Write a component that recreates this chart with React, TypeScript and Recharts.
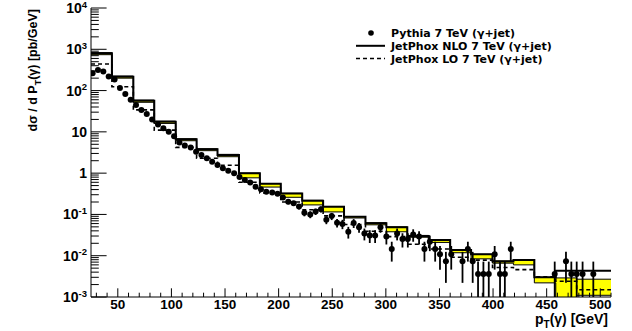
import React from 'react'
import {
  ComposedChart,
  Line,
  Area,
  Scatter,
  ErrorBar,
  XAxis,
  YAxis,
  Legend,
} from 'recharts'

// JetPhox histograms share the same binning (GeV)
const binEdges = [
  25, 44.5, 64.5, 84, 104, 123.5, 143, 163, 182.5, 202, 222, 241.5, 261, 281,
  300.5, 320, 340, 360, 379.5, 399.5, 419, 438.5, 458.5, 478, 510,
]
const nloXsec = [
  800, 217, 57, 17.6, 6.6, 3.8, 2.75, 0.99, 0.55, 0.32, 0.215, 0.154, 0.088,
  0.061, 0.049, 0.03, 0.024, 0.0138, 0.0108, 0.0072, 0.0079, 0.003, 0.0043,
  0.0043,
]
const nloBandLow = [
  740, 200, 52, 16, 6.1, 3.5, 2.5, 0.77, 0.46, 0.26, 0.17, 0.115, 0.082, 0.056,
  0.038, 0.028, 0.021, 0.0118, 0.0084, 0.0066, 0.006, 0.0022, 0.0005, 0.0011,
]
const nloBandHigh = [
  830, 225, 59, 18.2, 6.8, 3.9, 2.85, 1.0, 0.56, 0.325, 0.22, 0.156, 0.089,
  0.063, 0.05, 0.031, 0.0245, 0.014, 0.0108, 0.0075, 0.0079, 0.003, 0.0029,
  0.0027,
]
const loXsec = [
  440, 124, 34, 11, 4.2, 2.3, 1.55, 0.6, 0.33, 0.2, 0.13, 0.092, 0.057, 0.039,
  0.029, 0.019, 0.0145, 0.0092, 0.0078, 0.0052, 0.0046, 0.0031, 0.0024, 0.0015,
]

// Pythia points
const pythiaPt = [
  26.5, 31.5, 36.5, 41.5, 47, 52, 57, 62, 67, 72, 77, 82, 87.5, 92.5, 97.5,
  102.5, 107.5, 112.5, 118, 123, 128, 133, 138, 143, 148, 153, 158.5, 163.5,
  168.5, 173.5, 178.5, 183.5, 188.5, 194, 199, 204, 209, 214, 219, 224, 229.5,
  234.5, 239.5, 244.5, 249.5, 254.5, 259.5, 265, 270, 275, 280, 285, 290, 295,
  300.5, 305.5, 310.5, 315.5, 320.5, 325.5, 331, 336, 341, 346, 350.5, 356,
  361, 371.5, 376.5, 381, 386, 391, 396, 401.5, 406.5, 411, 416.5, 457.5, 468,
  473, 478, 483.5, 493.5,
]
const pythiaXsec = [
  263, 316, 288, 219, 186, 115, 83, 60, 45, 34, 27, 20, 15.1, 12.3, 10, 7.8,
  5.5, 4.7, 4.2, 3.3, 2.75, 2.3, 1.9, 1.58, 1.32, 1.15, 1.0, 0.81, 0.68, 0.59,
  0.47, 0.41, 0.355, 0.34, 0.315, 0.257, 0.204, 0.186, 0.155, 0.11, 0.1, 0.117,
  0.133, 0.074, 0.091, 0.063, 0.059, 0.038, 0.062, 0.049, 0.0345, 0.0309,
  0.0309, 0.049, 0.029, 0.0145, 0.0345, 0.0254, 0.0254, 0.0327, 0.029, 0.0145,
  0.0218, 0.0145, 0.0109, 0.0073, 0.0109, 0.0073, 0.0145, 0.0073, 0.0036,
  0.0036, 0.0036, 0.0109, 0.0036, 0.0036, 0.0145, 0.0036, 0.0073, 0.0036,
  0.0036, 0.0036, 0.0036,
]
const pythiaErrDown = [
  0, 0, 0, 0, 0, 0, 0, 0, 0, 0, 0, 0, 0, 0, 0, 0, 0, 0, 0, 0, 0, 0, 0, 0, 0, 0,
  0, 0.05, 0.045, 0.04, 0.035, 0.033, 0.031, 0.03, 0.029, 0.03, 0.027, 0.026,
  0.024, 0.02, 0.019, 0.02, 0.022, 0.016, 0.018, 0.015, 0.015, 0.012, 0.015,
  0.013, 0.011, 0.0106, 0.0106, 0.013, 0.0103, 0.0073, 0.011, 0.0096, 0.0096,
  0.0109, 0.0103, 0.0073, 0.0089, 0.0073, 0.0063, 0.0051, 0.0063, 0.0051,
  0.0073, 0.0051, 0.0026, 0.0026, 0.0026, 0.0063, 0.0026, 0.0026, 0.0073,
  0.0026, 0.0051, 0.0026, 0.0026, 0.0026, 0.0026,
]
const pythiaErrUp = [
  0, 0, 0, 0, 0, 0, 0, 0, 0, 0, 0, 0, 0, 0, 0, 0, 0, 0, 0, 0, 0, 0, 0, 0, 0, 0,
  0, 0.05, 0.045, 0.04, 0.035, 0.033, 0.031, 0.03, 0.029, 0.03, 0.027, 0.026,
  0.024, 0.02, 0.019, 0.02, 0.022, 0.016, 0.018, 0.015, 0.015, 0.012, 0.015,
  0.013, 0.011, 0.0106, 0.0106, 0.013, 0.0103, 0.0073, 0.011, 0.0096, 0.0096,
  0.0109, 0.0103, 0.0073, 0.0089, 0.0073, 0.0063, 0.0051, 0.0063, 0.0051,
  0.0073, 0.0051, 0.0036, 0.0036, 0.0036, 0.0063, 0.0036, 0.0036, 0.0073,
  0.0036, 0.0051, 0.0036, 0.0036, 0.0036, 0.0036,
]

const xMajorTicks = [50, 100, 150, 200, 250, 300, 350, 400, 450, 500]
const xMinorTicks = [
  30, 40, 60, 70, 80, 90, 110, 120, 130, 140, 160, 170, 180, 190, 210, 220, 230,
  240, 260, 270, 280, 290, 310, 320, 330, 340, 360, 370, 380, 390, 410, 420,
  430, 440, 460, 470, 480, 490, 510,
]
const yMajorTicks = [1e-3, 1e-2, 1e-1, 1, 10, 1e2, 1e3, 1e4]
const yTickLabels = [
  ['10', '-3'],
  ['10', '-2'],
  ['10', '-1'],
  ['1', ''],
  ['10', ''],
  ['10', '2'],
  ['10', '3'],
  ['10', '4'],
]
const decadeSteps = [2, 3, 4, 5, 6, 7, 8, 9]

const FONT = '"Liberation Sans", Arial, Helvetica, sans-serif'
const LEGEND_FONT = '"DejaVu Sans", "Liberation Sans", sans-serif'

const histRows = binEdges.map((pt, i) => {
  const b = Math.min(i, nloXsec.length - 1)
  return {
    pt,
    nlo: nloXsec[b],
    lo: loXsec[b],
    band: [nloBandLow[b], nloBandHigh[b]],
  }
})

const pythiaRows = pythiaPt.map((pt, i) => ({
  pt,
  xsec: pythiaXsec[i],
  err: [pythiaErrDown[i], pythiaErrUp[i]],
}))

const yMinorTicks = yMajorTicks
  .slice(0, -1)
  .flatMap((d) => decadeSteps.map((m) => m * d))

function XTick({ x, y, payload }: any) {
  const major = xMajorTicks.includes(payload.value)
  return (
    <g>
      <line x1={x} x2={x} y1={y} y2={y - (major ? 8.7 : 4.3)} stroke="#000" />
      {major && (
        <text
          x={x}
          y={y + 12}
          textAnchor="middle"
          fontFamily={FONT}
          fontWeight="bold"
          fontSize={13.5}
          fill="#000"
        >
          {payload.value}
        </text>
      )}
    </g>
  )
}

function YTick({ x, y, payload }: any) {
  const idx = yMajorTicks.indexOf(payload.value)
  const major = idx >= 0
  return (
    <g>
      <line x1={x} x2={x + (major ? 15.6 : 7.8)} y1={y} y2={y} stroke="#000" />
      {major && (
        <text
          x={x - 4}
          y={y + 5}
          textAnchor="end"
          fontFamily={FONT}
          fontWeight="bold"
          fontSize={14}
          fill="#000"
        >
          {yTickLabels[idx][0]}
          {yTickLabels[idx][1] && (
            <tspan dy={-5.5} fontSize={9.5}>
              {yTickLabels[idx][1]}
            </tspan>
          )}
        </text>
      )}
    </g>
  )
}

function XTitle() {
  return (
    <text
      x={608}
      y={324}
      textAnchor="end"
      fontFamily={FONT}
      fontWeight="bold"
      fontSize={14}
      fill="#000"
    >
      p
      <tspan dy={3.5} fontSize={10}>
        T
      </tspan>
      <tspan dy={-3.5}>(γ) [GeV]</tspan>
    </text>
  )
}

function YTitle() {
  return (
    <text
      transform="translate(37, 9) rotate(-90)"
      textAnchor="end"
      fontFamily={FONT}
      fontWeight="bold"
      fontSize={12.5}
      fill="#000"
    >
      dσ / d P
      <tspan dy={3.5} fontSize={9}>
        T
      </tspan>
      <tspan dy={-3.5}>(γ) [pb/GeV]</tspan>
    </text>
  )
}

function LegendBox() {
  const rows = [
    { label: 'Pythia 7 TeV (γ+jet)', kind: 'dot' },
    { label: 'JetPhox NLO 7 TeV (γ+jet)', kind: 'solid' },
    { label: 'JetPhox LO 7 TeV (γ+jet)', kind: 'dashed' },
  ]
  return (
    <svg width={260} height={46}>
      {rows.map((r, i) => {
        const cy = 8 + i * 12.8
        return (
          <g key={r.label}>
            {r.kind === 'dot' && <circle cx={17} cy={cy} r={2.8} fill="#000" />}
            {r.kind === 'solid' && (
              <line x1={2} x2={31} y1={cy} y2={cy} stroke="#000" strokeWidth={2} />
            )}
            {r.kind === 'dashed' && (
              <line
                x1={2}
                x2={31}
                y1={cy}
                y2={cy}
                stroke="#000"
                strokeWidth={1.5}
                strokeDasharray="4 3"
              />
            )}
            <text
              x={37}
              y={cy + 4}
              fontFamily={LEGEND_FONT}
              fontWeight="bold"
              fontSize={11}
              fill="#000"
            >
              {r.label}
            </text>
          </g>
        )
      })}
    </svg>
  )
}

export default function App() {
  return (
    <div style={{ position: 'absolute', left: 0, top: 0, background: '#fff' }}>
      <ComposedChart
        width={632}
        height={331}
        data={histRows}
        margin={{ top: 8, right: 21, bottom: 0, left: 0 }}
      >
        <XAxis
          dataKey="pt"
          type="number"
          domain={[25, 510]}
          allowDataOverflow
          ticks={[...xMajorTicks, ...xMinorTicks]}
          interval={0}
          tickLine={false}
          tickSize={0}
          tickMargin={0}
          height={34}
          axisLine={{ stroke: '#000' }}
          tick={<XTick />}
          label={<XTitle />}
        />
        <XAxis
          xAxisId="top"
          orientation="top"
          type="number"
          domain={[25, 510]}
          height={0}
          tick={false}
          tickLine={false}
          axisLine={{ stroke: '#777' }}
        />
        <YAxis
          type="number"
          scale="log"
          domain={[1e-3, 1e4]}
          allowDataOverflow
          ticks={[...yMajorTicks, ...yMinorTicks]}
          interval={0}
          tickLine={false}
          tickSize={0}
          tickMargin={0}
          width={91}
          axisLine={{ stroke: '#000' }}
          tick={<YTick />}
          label={<YTitle />}
        />
        <YAxis
          yAxisId="right"
          orientation="right"
          type="number"
          scale="log"
          domain={[1e-3, 1e4]}
          width={0}
          tick={false}
          tickLine={false}
          axisLine={{ stroke: '#666' }}
        />
        <Area
          dataKey="band"
          type="stepAfter"
          fill="#ffff00"
          fillOpacity={1}
          stroke="#000"
          strokeWidth={1}
          isAnimationActive={false}
          legendType="none"
        />
        <Line
          dataKey="lo"
          type="stepAfter"
          stroke="#000"
          strokeWidth={1.6}
          strokeDasharray="4 3"
          dot={false}
          isAnimationActive={false}
        />
        <Line
          dataKey="nlo"
          type="stepAfter"
          stroke="#000"
          strokeWidth={2}
          dot={false}
          isAnimationActive={false}
        />
        <Scatter
          data={pythiaRows}
          dataKey="xsec"
          isAnimationActive={false}
          shape={(p: any) => <circle cx={p.cx} cy={p.cy} r={3} fill="#000" />}
        >
          <ErrorBar
            dataKey="err"
            direction="y"
            width={0}
            stroke="#000"
            strokeWidth={1.8}
          />
        </Scatter>
        <Legend
          layout="vertical"
          align="center"
          verticalAlign="middle"
          wrapperStyle={{ top: 25, left: 354, width: 260 }}
          content={<LegendBox />}
        />
      </ComposedChart>
    </div>
  )
}
